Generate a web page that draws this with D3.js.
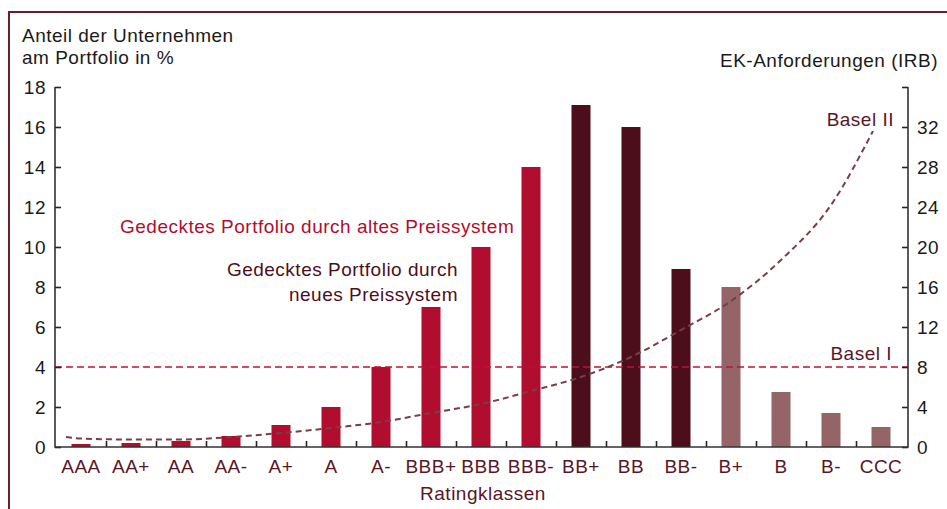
<!DOCTYPE html>
<html>
<head>
<meta charset="utf-8">
<script src="https://cdn.jsdelivr.net/npm/d3@7"></script>
<style>
  body { margin: 0; background: #fff; }
  text { font-family: "Liberation Sans", Arial, sans-serif; }
</style>
</head>
<body>
<script>
// data
const ratings = ["AAA", "AA+", "AA", "AA-", "A+", "A", "A-", "BBB+", "BBB", "BBB-",
  "BB+", "BB", "BB-", "B+", "B", "B-", "CCC"];
const shares = [0.15, 0.2, 0.3, 0.55, 1.1, 2.0, 4.0, 7.0, 10.0, 14.0,
  17.1, 16.0, 8.9, 8.0, 2.75, 1.7, 1.0];
// group of each bar: old system, new system, rest
const groups = ["alt", "alt", "alt", "alt", "alt", "alt", "alt", "alt", "alt", "alt",
  "neu", "neu", "neu", "rest", "rest", "rest", "rest"];
// Basel II curve: position in rating steps (0 = AAA) and capital requirement
const baselIIPos = [-0.3, 0, 1, 2, 3, 4, 5, 6, 7, 8, 9, 10, 11, 12, 13, 14, 15, 15.84];
const baselIIVal = [1.0, 0.85, 0.75, 0.75, 1.0, 1.4, 1.9, 2.5, 3.4, 4.3, 5.6, 7.0, 9.0, 11.7, 14.6, 18.7, 24.2, 31.6];
const baselI = 8;
const leftTicks = [0, 2, 4, 6, 8, 10, 12, 14, 16, 18];
const rightTicks = [0, 4, 8, 12, 16, 20, 24, 28, 32];

const W = 947, H = 509;
const x0 = 55, x1 = 908, yBase = 447, yTop = 87;
const FS = "19px", LS = "0.5px";

const svg = d3.select("body").append("svg")
  .attr("width", W).attr("height", H);

// frame
svg.append("path")
  .attr("d", `M9,${H + 5} L9,12 L${W + 5},12`)
  .attr("fill", "none")
  .attr("stroke", "#6b1f2e")
  .attr("stroke-width", 2);

const xScale = d3.scaleBand().domain(ratings).range([x0 + 1, x1 - 2]).paddingInner(0.62).paddingOuter(0.31);
const yLeft = d3.scaleLinear().domain([0, 18]).range([yBase, yTop]);
const yRight = d3.scaleLinear().domain([0, 36]).range([yBase, yTop]);
const color = d3.scaleOrdinal().domain(["alt", "neu", "rest"]).range(["#b00d2f", "#4d0e1c", "#946467"]);

const step = xScale.step();
const xCenter = (i) => xScale(ratings[0]) + xScale.bandwidth() / 2 + i * step;

// bars
svg.selectAll("rect.bar")
  .data(ratings)
  .enter()
  .append("rect")
  .attr("class", "bar")
  .attr("x", (d) => xScale(d))
  .attr("y", (d, i) => yLeft(shares[i]))
  .attr("width", xScale.bandwidth())
  .attr("height", (d, i) => yBase - yLeft(shares[i]))
  .attr("fill", (d, i) => color(groups[i]));

// Basel I line
svg.append("line")
  .attr("x1", x0).attr("x2", x1)
  .attr("y1", yRight(baselI)).attr("y2", yRight(baselI))
  .attr("stroke", "#c0103a")
  .attr("stroke-width", 1.6)
  .attr("stroke-dasharray", "7,4");

// Basel II curve
const line = d3.line()
  .x((d) => xCenter(d[0]))
  .y((d) => yRight(d[1]))
  .curve(d3.curveMonotoneX);
svg.append("path")
  .datum(baselIIPos.map((p, i) => [p, baselIIVal[i]]))
  .attr("d", line)
  .attr("fill", "none")
  .attr("stroke", "#7b3d48")
  .attr("stroke-width", 2)
  .attr("stroke-dasharray", "6,4");

// axes
const gL = svg.append("g")
  .attr("transform", `translate(${x0},0)`)
  .call(d3.axisRight(yLeft).tickValues(leftTicks).tickSize(6).tickFormat(""));
const gR = svg.append("g")
  .attr("transform", `translate(${x1},0)`)
  .call(d3.axisLeft(yRight).tickValues(rightTicks.concat([36])).tickSize(6).tickFormat(""));
const gX = svg.append("g")
  .attr("transform", `translate(0,${yBase})`)
  .call(d3.axisTop(d3.scaleLinear().domain([0, 17]).range([xScale(ratings[0]) - (step - xScale.bandwidth()) / 2, xScale(ratings[0]) - (step - xScale.bandwidth()) / 2 + 17 * step]))
    .tickValues(d3.range(1, 17)).tickSize(6).tickFormat(""));
[gL, gR, gX].forEach((g) => {
  g.selectAll("path.domain").remove();
  g.selectAll("line").attr("stroke", "#222").attr("stroke-width", 1.6);
});
// axis lines drawn by hand so they meet at the corners
svg.append("path")
  .attr("d", `M${x0},${yTop} L${x0},${yBase} L${x1},${yBase} L${x1},${yTop}`)
  .attr("fill", "none")
  .attr("stroke", "#333")
  .attr("stroke-width", 1.6);

// tick labels
svg.selectAll("text.lt")
  .data(leftTicks)
  .enter()
  .append("text")
  .attr("x", 46)
  .attr("y", (d) => yLeft(d) + 7)
  .attr("text-anchor", "end")
  .attr("font-size", FS)
  .attr("letter-spacing", LS)
  .attr("fill", "#1a1a1a")
  .text((d) => d);
svg.selectAll("text.rt")
  .data(rightTicks)
  .enter()
  .append("text")
  .attr("x", 917)
  .attr("y", (d) => yRight(d) + 7)
  .attr("font-size", FS)
  .attr("letter-spacing", LS)
  .attr("fill", "#1a1a1a")
  .text((d) => d);
svg.selectAll("text.cat")
  .data(ratings)
  .enter()
  .append("text")
  .attr("x", (d) => xScale(d) + xScale.bandwidth() / 2)
  .attr("y", 473)
  .attr("text-anchor", "middle")
  .attr("font-size", FS)
  .attr("letter-spacing", LS)
  .attr("fill", "#5a1626")
  .text((d) => d);

// titles and labels
const label = (x, y, t, anchor, fill) =>
  svg.append("text")
    .attr("x", x).attr("y", y)
    .attr("text-anchor", anchor)
    .attr("font-size", FS)
    .attr("letter-spacing", LS)
    .attr("fill", fill)
    .text(t);
label(22, 42, "Anteil der Unternehmen", "start", "#1a1a1a");
label(22, 64, "am Portfolio in %", "start", "#1a1a1a");
label(938, 67, "EK-Anforderungen (IRB)", "end", "#1a1a1a");
label(483, 500, "Ratingklassen", "middle", "#5a1626");
label(120, 233, "Gedecktes Portfolio durch altes Preissystem", "start", "#b00d2f");
label(458, 276, "Gedecktes Portfolio durch", "end", "#4d0e1c");
label(458, 301, "neues Preissystem", "end", "#4d0e1c");
label(894, 126, "Basel II", "end", "#5a1626");
label(892, 360, "Basel I", "end", "#5a1626");
</script>
</body>
</html>
